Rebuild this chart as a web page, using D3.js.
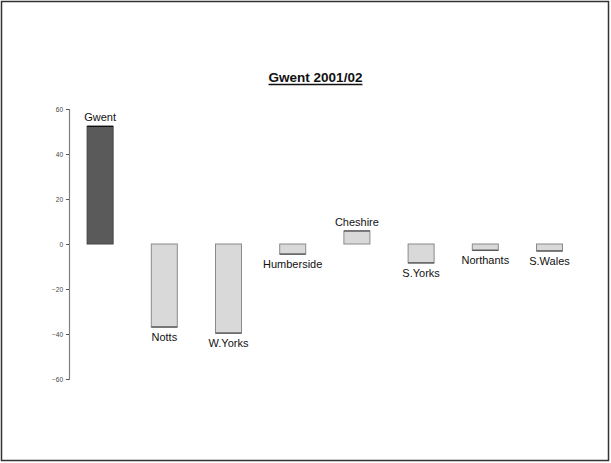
<!DOCTYPE html>
<html><head><meta charset="utf-8">
<script src="https://cdn.jsdelivr.net/npm/d3@7"></script>
<style>body{margin:0;background:#fff}svg{display:block}</style>
</head><body>
<script>
const categories = ["Gwent","Notts","W.Yorks","Humberside","Cheshire","S.Yorks","Northants","S.Wales"];
const values = [52.3, -36.9, -39.6, -4.5, 5.8, -8.4, -2.8, -3.1];
const highlight = ["Gwent"];
const tickValues = [-60,-40,-20,0,20,40,60];
const title = "Gwent 2001/02";

const W = 611, H = 463;
const svg = d3.select("body").append("svg").attr("width", W).attr("height", H);

svg.append("rect").attr("x",1.5).attr("y",1.5).attr("width",W-4).attr("height",H-4)
  .attr("fill","#fff").attr("stroke","#333").attr("stroke-width",1.5);

const x = d3.scaleBand().domain(categories).range([68, 581.6]).paddingInner(0.595).paddingOuter(0.2975);
const y = d3.scaleLinear().domain([-60, 60]).range([379, 109]);

const yAxis = d3.axisLeft(y).tickValues(tickValues).tickSize(3).tickPadding(3);
const ga = svg.append("g").attr("transform","translate(69,0)").call(yAxis);
ga.select(".domain").attr("stroke","#808080").attr("stroke-width",1.2);
ga.selectAll(".tick line").attr("stroke","#555");
ga.selectAll(".tick text").attr("font-family","Liberation Sans, Arial, sans-serif").attr("font-size",6.5).attr("fill","#444");

const data = categories.map((c,i)=>({c, v: values[i]}));
svg.append("g").selectAll("rect").data(data).join("rect")
  .attr("x", d=>x(d.c)).attr("width", x.bandwidth())
  .attr("y", d=>y(Math.max(0,d.v))).attr("height", d=>Math.abs(y(d.v)-y(0)))
  .attr("fill", d=>highlight.includes(d.c) ? "#5a5a5a" : "#d9d9d9")
  .attr("stroke", d=>highlight.includes(d.c) ? "#444" : "#8a8a8a").attr("stroke-width",1);

svg.append("g").selectAll("line").data(data).join("line")
  .attr("x1", d=>x(d.c)).attr("x2", d=>x(d.c)+x.bandwidth())
  .attr("y1", d=>y(d.v)).attr("y2", d=>y(d.v))
  .attr("stroke", d=>highlight.includes(d.c) ? "#111" : "#555").attr("stroke-width",1.3);

svg.append("g").selectAll("text").data(data).join("text")
  .attr("x", d=>x(d.c)+x.bandwidth()/2)
  .attr("y", d=> d.v>=0 ? y(d.v)-5 : y(d.v)+14)
  .attr("text-anchor","middle")
  .attr("font-family","Liberation Sans, Arial, sans-serif").attr("font-size",11).attr("fill","#111")
  .text(d=>d.c);

const t = svg.append("text").attr("x",315.5).attr("y",82).attr("text-anchor","middle")
  .attr("font-family","Liberation Sans, Arial, sans-serif").attr("font-size",13.5).attr("font-weight","bold")
  .attr("fill","#111").text(title);
const bb = t.node().getBBox();
svg.append("line").attr("x1",bb.x).attr("x2",bb.x+bb.width).attr("y1",84.5).attr("y2",84.5)
  .attr("stroke","#111").attr("stroke-width",1.3);
</script>
</body></html>
